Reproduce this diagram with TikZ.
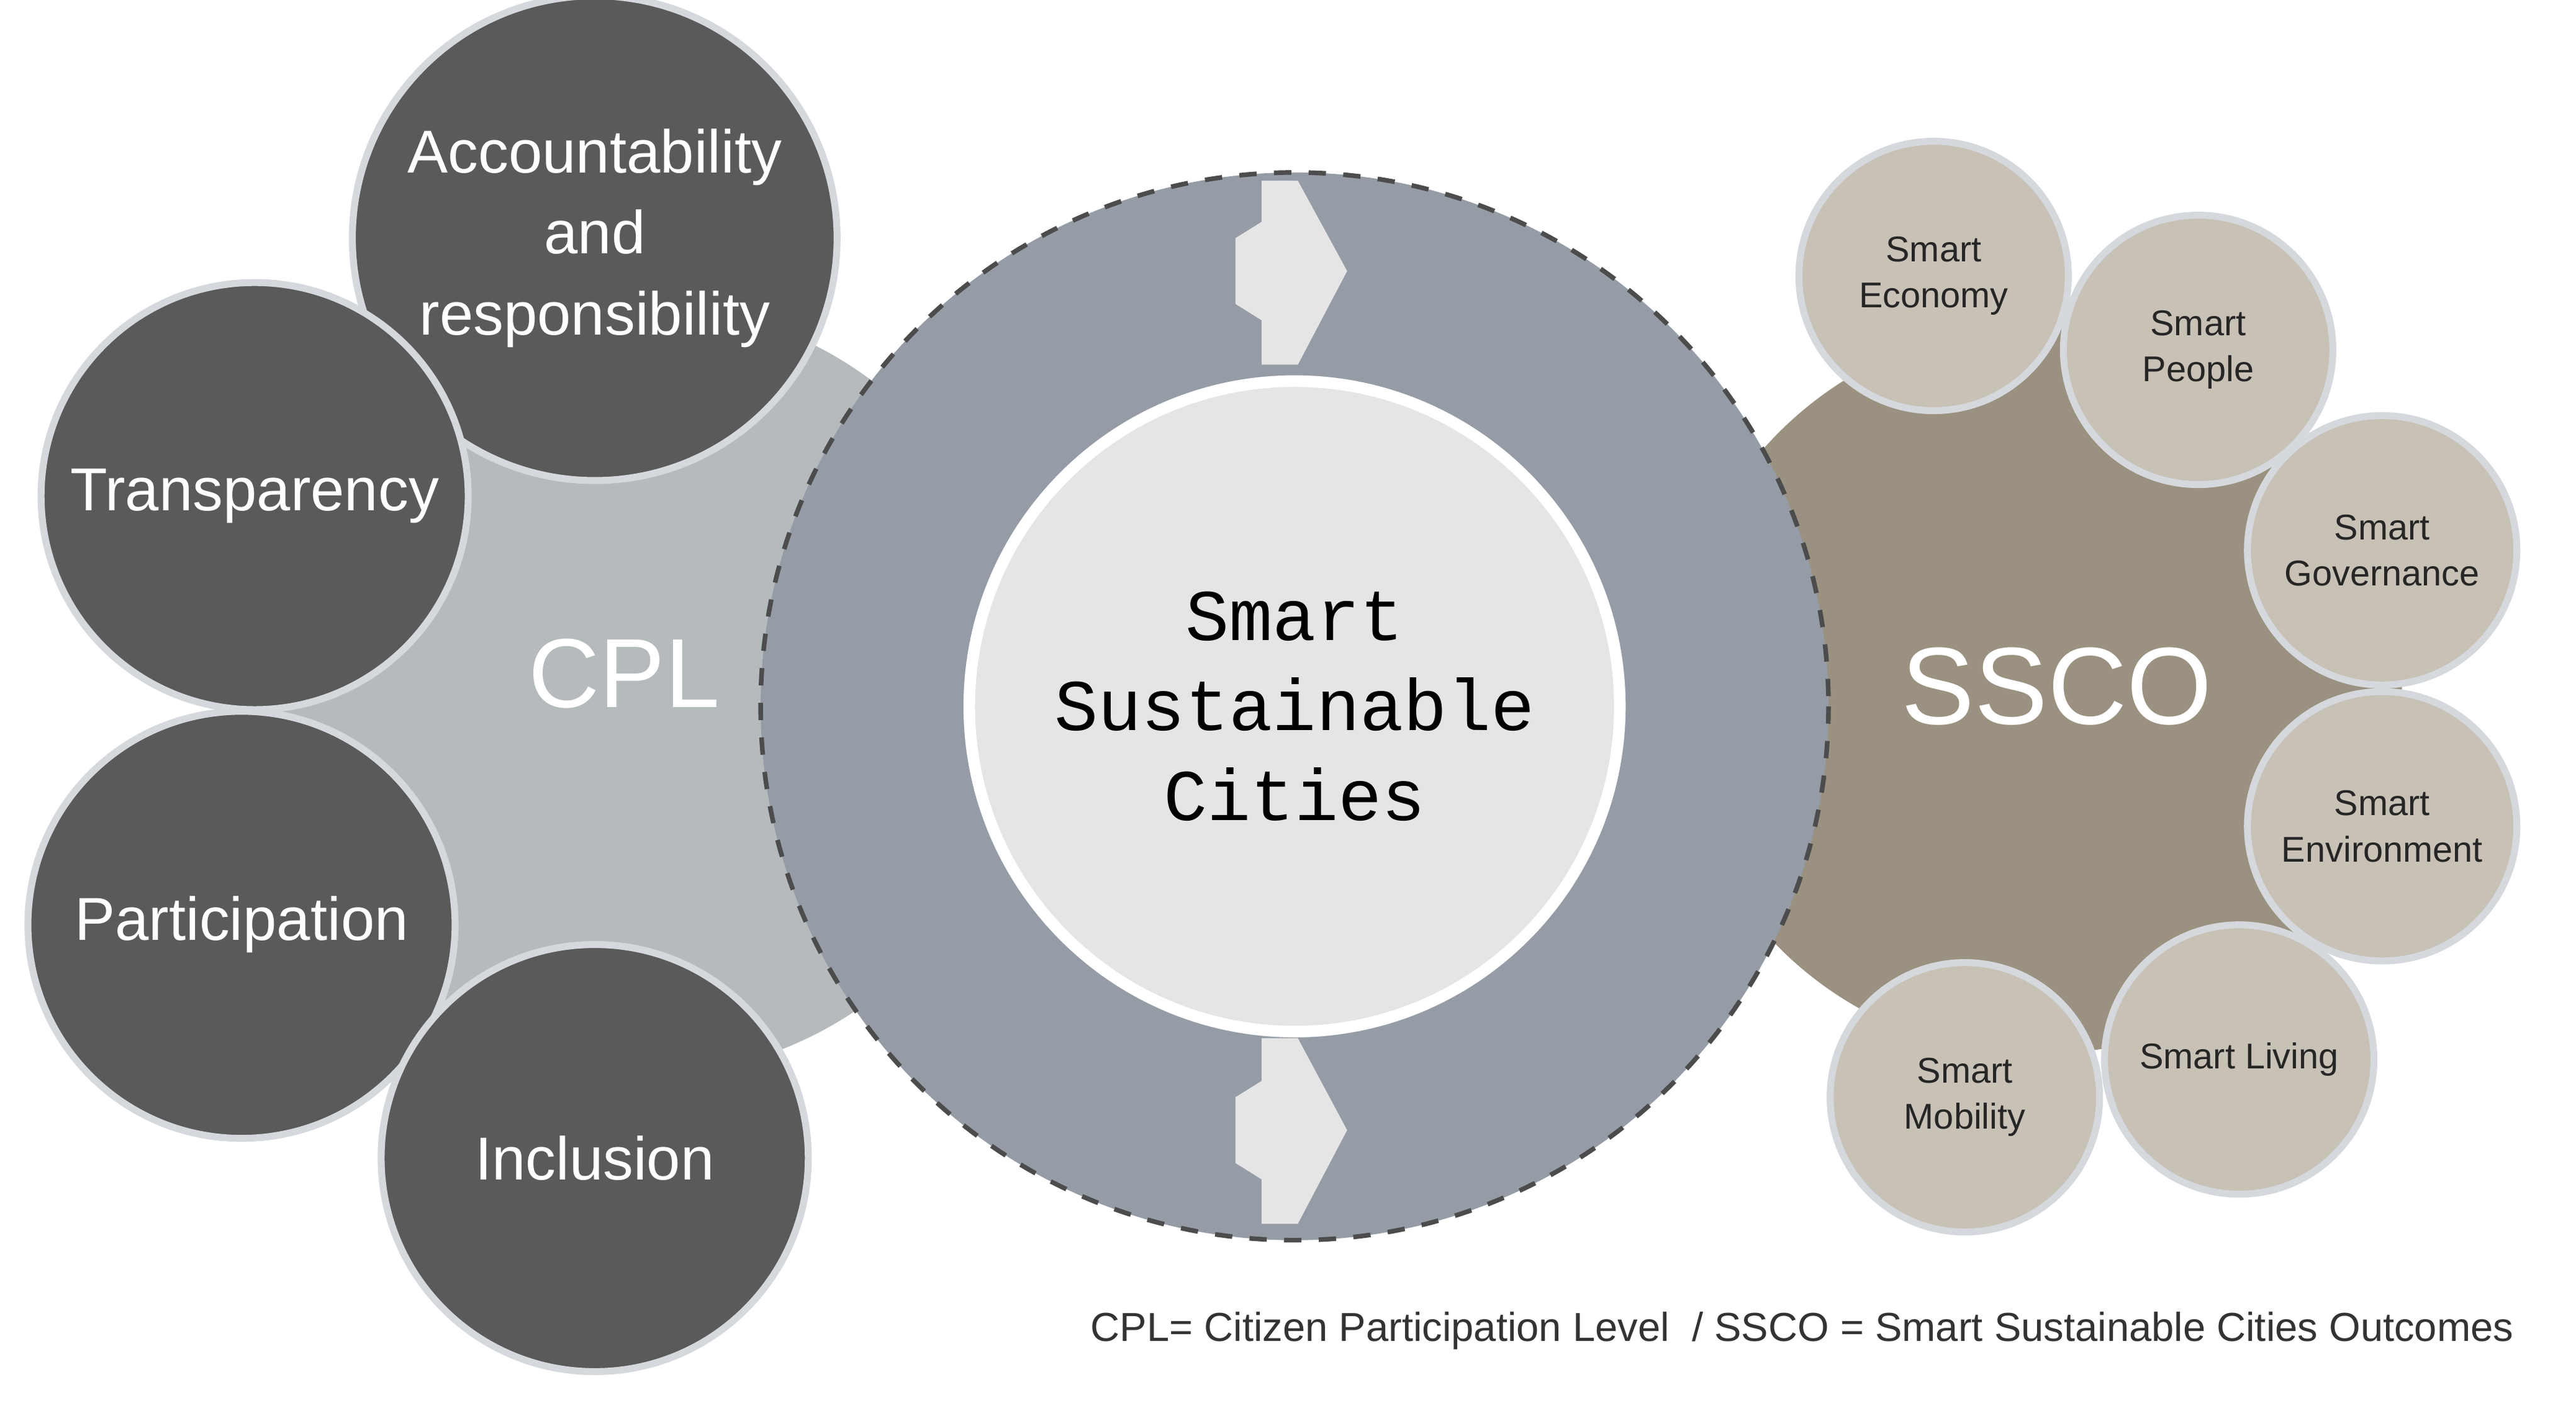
\documentclass[tikz,border=0pt]{standalone}
\usepackage{fontspec}
\setmainfont{Liberation Sans}
\newfontfamily\monofont{Liberation Mono}
\usetikzlibrary{positioning}
\definecolor{cplgray}{HTML}{B5BBBD}
\definecolor{sscobrown}{HTML}{9A9180}
\definecolor{ringgray}{HTML}{959CA6}
\definecolor{darkdisc}{HTML}{5A5A5A}
\definecolor{lightdisc}{HTML}{C7C1B6}
\definecolor{rimgray}{HTML}{D5D8DC}
\tikzset{
  dark/.style={circle, fill=darkdisc, draw=rimgray, line width=1.2pt, minimum size=260*0.01cm, text=white, align=center, font=\fontsize{10.5}{14}\selectfont},
  light/.style={circle, fill=lightdisc, draw=rimgray, line width=1.2pt, minimum size=164*0.01cm, text=black!85, align=center, font=\fontsize{6.2}{8}\selectfont},
  chevron/.style={fill=gray!20, draw=none}
}
\begin{document}
\begin{tikzpicture}[x=0.01cm, y=-0.01cm]
\useasboundingbox[fill=white] (0,0) rectangle (1568,854);
% background discs
\fill[cplgray] (390,420) circle (235);
\fill[sscobrown] (1240,420) circle (222);
\node[text=white, font=\fontsize{17}{20}\selectfont] (cpl) at (380,410) {CPL};
\node[text=white, font=\fontsize{19}{22}\selectfont] (ssco) at (1252,418) {SSCO};
% ring
\draw[fill=ringgray, draw=gray!60!black, dashed, thick] (788,430) circle (325);
\draw[fill=gray!20, draw=white, line width=2pt] (788,430) circle (198);
\node[align=center, font=\monofont\fontsize{12.6}{15.6}\selectfont] (ssc) at (788,430) {Smart\\Sustainable\\Cities};
% chevrons
\fill[chevron] (768,110) -- (790,110) -- (820,165) -- (790,222) -- (768,222) -- (768,195) -- (752,185) -- (752,145) -- (768,135) -- cycle;
\fill[chevron] (768,632) -- (790,632) -- (820,688) -- (790,745) -- (768,745) -- (768,718) -- (752,708) -- (752,668) -- (768,658) -- cycle;
% citizen participation
\node[dark] (acc) at (362,145) {Accountability\\and\\responsibility};
\node[dark] (tra) at (155,302) {Transparency};
\node[dark] (par) at (147,563) {Participation};
\node[dark] (inc) at (362,705) {Inclusion};
% outcomes
\node[light] (eco) at (1177,168) {Smart\\Economy};
\node[light] (peo) at (1338,213) {Smart\\People};
\node[light] (gov) at (1450,335) {Smart\\Governance};
\node[light] (env) at (1450,503) {Smart\\Environment};
\node[light] (liv) at (1363,645) {Smart Living};
\node[light] (mob) at (1196,668) {Smart\\Mobility};
\node[text=black!80, font=\fontsize{7}{9}\selectfont] (key) at (1097,810) {CPL= Citizen Participation Level \ / SSCO = Smart Sustainable Cities Outcomes};
\end{tikzpicture}
\end{document}
